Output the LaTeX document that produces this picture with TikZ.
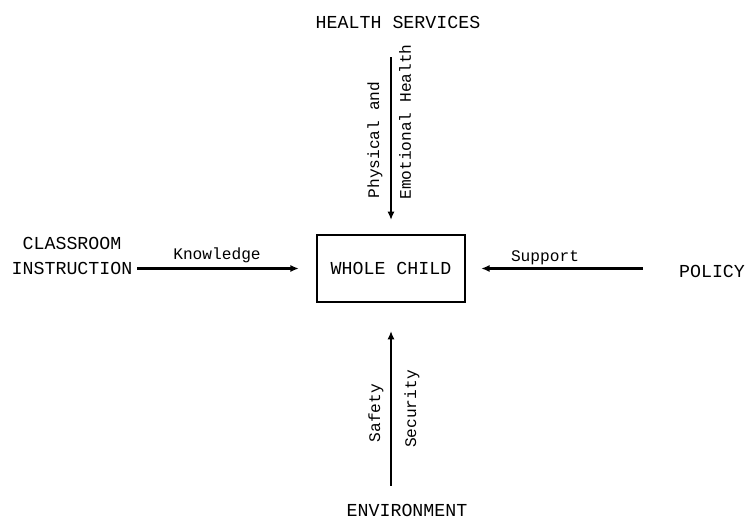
\documentclass[tikz,border=0pt]{standalone}
\usepackage{fontspec}
\setmonofont{Liberation Mono}
\usetikzlibrary{arrows.meta}

\begin{document}
\begin{tikzpicture}[x=0.025cm, y=-0.025cm, >={Latex[length=6pt,width=5pt]},
        every node/.style={font=\ttfamily\fontsize{13}{18}\selectfont},
        lbl/.style={font=\ttfamily\fontsize{11.5}{14}\selectfont},
        flow/.style={->, line width=1.6pt}]
        \useasboundingbox (0,0) rectangle (747,523);

        % the five parts
        \node (hs) at (398,22) {HEALTH SERVICES};
        \node[draw, line width=1.3pt, minimum width=3.7cm, minimum height=1.675cm] (child) at (391,268.5) {WHOLE CHILD};
        \node[align=center] (class) at (72,256) {CLASSROOM\\INSTRUCTION};
        \node (policy) at (712,271) {POLICY};
        \node (env) at (407,510) {ENVIRONMENT};

        % what flows in
        \draw[flow, shorten <=0.6cm, shorten >=0.35cm] (child.north |- hs.south) -- (child.north);
        \draw[flow, shorten >=0.43cm] (class.east |- child.west) -- (child.west);
        \draw[flow, shorten <=0.78cm, shorten >=0.38cm] (policy.west |- child.east) -- (child.east);
        \draw[flow, shorten <=0.33cm, shorten >=0.7cm] (child.south |- env.north) -- (child.south);

        \node[lbl, rotate=90] (phys) at (375,140) {Physical and};
        \node[lbl, rotate=90] (emot) at (405,122) {Emotional Health};
        \node[lbl] (know) at (217,255) {Knowledge};
        \node[lbl] (supp) at (545,258) {Support};
        \node[lbl, rotate=90] (safe) at (376,413) {Safety};
        \node[lbl, rotate=90] (secu) at (412,409) {Security};

\end{tikzpicture}
\end{document}
